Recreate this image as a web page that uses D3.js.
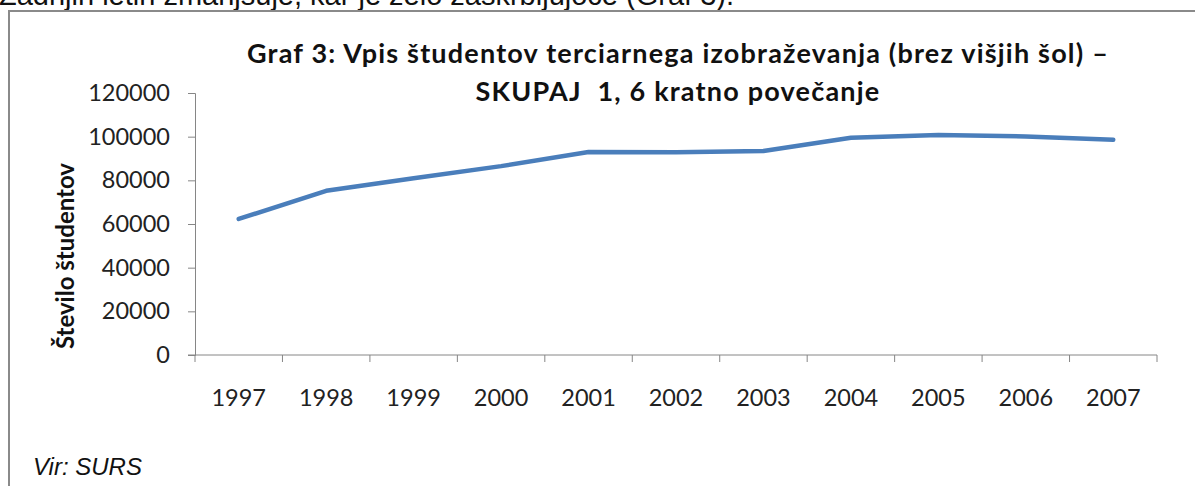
<!DOCTYPE html>
<html>
<head>
<meta charset="utf-8">
<script src="https://cdn.jsdelivr.net/npm/d3@7"></script>
<style>
  body { margin: 0; background: #fff; }
  svg { display: block; }
  .tick text { font-family: Lato, "Open Sans", sans-serif; fill: #222; }
</style>
</head>
<body>
<div id="chart"></div>
<script>
// podatki
const years = ["1997", "1998", "1999", "2000", "2001", "2002", "2003", "2004", "2005", "2006", "2007"];
const students = [62300, 75200, 81000, 86500, 93000, 92900, 93400, 99500, 100800, 100100, 98600];
const yTicks = [0, 20000, 40000, 60000, 80000, 100000, 120000];
const titleLines = ["Graf 3: Vpis študentov terciarnega izobraževanja (brez višjih šol) –", "SKUPAJ  1, 6 kratno povečanje"];

const W = 1195, H = 486;
const svg = d3.select('#chart').append('svg')
    .attr('width', W)
    .attr('height', H);

// besedilo nad okvirjem (odrezano)
svg.append('text')
    .attr('x', -1)
    .attr('y', 5)
    .style('font-family', '"Liberation Sans", Arial, sans-serif')
    .style('font-size', '29px')
    .attr('fill', '#111')
    .text('Zadnjih letih zmanjšuje, kar je zelo zaskrbljujoče (Graf 3).');

// okvir
svg.append('rect')
    .attr('x', 9)
    .attr('y', 11)
    .attr('width', W + 20)
    .attr('height', H + 20)
    .attr('fill', 'none')
    .attr('stroke', '#8a8a8a')
    .attr('stroke-width', 2);

const x = d3.scaleBand()
    .domain(years)
    .range([195, 1157])
    .padding(0);

const y = d3.scaleLinear()
    .domain([0, 120000])
    .range([355, 93]);

// os y
const yAxis = svg.append('g')
    .attr('transform', 'translate(195,0)')
    .call(d3.axisLeft(y).tickValues(yTicks).tickSize(7).tickPadding(18).tickFormat(d3.format('d')));
yAxis.selectAll('text').style('font-size', '23.5px');

// os x
const xAxis = svg.append('g')
    .attr('transform', 'translate(0,355)')
    .call(d3.axisBottom(x).tickSize(0).tickPadding(34));
xAxis.selectAll('text').style('font-size', '23.5px');
xAxis.select('.domain').remove();

// meje kategorij (kljukice med leti)
const edges = years.map(d => x(d)).concat([x.range()[1]]);
svg.append('g').selectAll('line')
    .data(edges)
  .enter().append('line')
    .attr('x1', d => d).attr('x2', d => d)
    .attr('y1', 355).attr('y2', 362)
    .attr('stroke', '#868686');
svg.append('line')
    .attr('x1', 188).attr('x2', 1157)
    .attr('y1', 355).attr('y2', 355)
    .attr('stroke', '#868686');

svg.selectAll('.domain, .tick line').attr('stroke', '#868686');

// črta
const line = d3.line()
    .x((d, i) => x(years[i]) + x.bandwidth() / 2)
    .y(d => y(d));

svg.append('path')
    .datum(students)
    .attr('d', line)
    .attr('fill', 'none')
    .attr('stroke', '#4a7ebb')
    .attr('stroke-width', 4.5)
    .attr('stroke-linecap', 'round')
    .attr('stroke-linejoin', 'round');

// naslov
svg.append('g').selectAll('text')
    .data(titleLines)
  .enter().append('text')
    .attr('x', 678)
    .attr('y', (d, i) => 63 + i * 38)
    .attr('text-anchor', 'middle')
    .style('font-family', 'Lato, sans-serif')
    .style('font-weight', 'bold')
    .style('font-size', '27px')
    .style('letter-spacing', '1.2px')
    .attr('fill', '#111')
    .attr('xml:space', 'preserve')
    .style('white-space', 'pre')
    .text(d => d);

// naslov osi y
svg.append('text')
    .attr('transform', 'translate(74,256) rotate(-90)')
    .attr('text-anchor', 'middle')
    .style('font-family', 'Lato, sans-serif')
    .style('font-weight', 'bold')
    .style('font-size', '24px')
    .attr('fill', '#111')
    .text('Število študentov');

// vir
svg.append('text')
    .attr('x', 33)
    .attr('y', 475)
    .style('font-family', '"Liberation Sans", Arial, sans-serif')
    .style('font-style', 'italic')
    .style('font-size', '24px')
    .attr('fill', '#111')
    .text('Vir: SURS');
</script>
</body>
</html>
